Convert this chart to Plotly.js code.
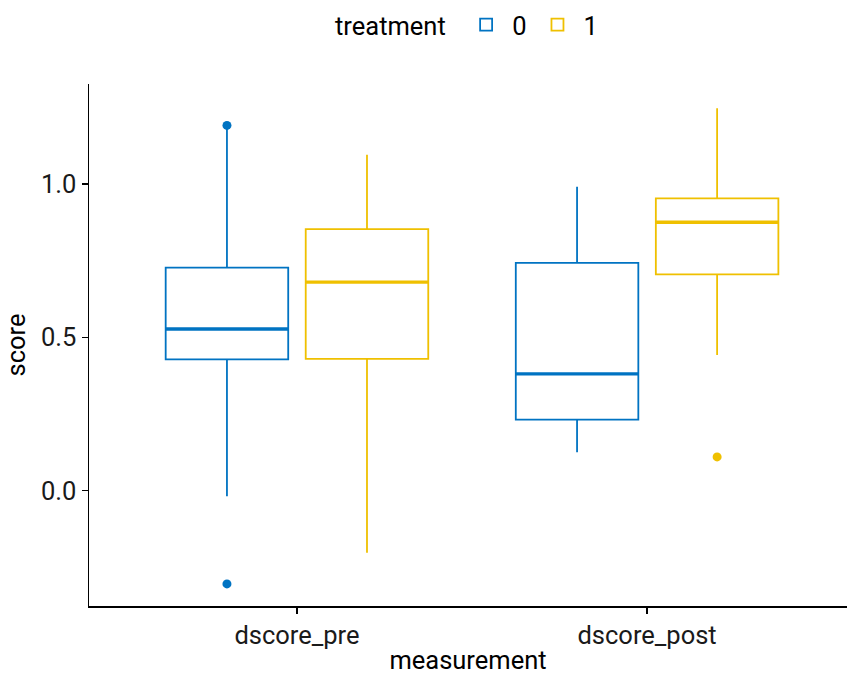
<!DOCTYPE html>
<html>
<head>
<meta charset="utf-8">
<script src="https://cdn.plot.ly/plotly-3.0.1.min.js"></script>
<style>html,body{margin:0;padding:0;background:#fff;}#chart{width:847px;height:676px;}</style>
</head>
<body>
<div id="chart"></div>
<script>
// ---- data ----
const categories = ['dscore_pre', 'dscore_post'];
const treatments = ['0', '1'];
const colors = ['#0073C2', '#EFC000'];

// treatment 0
const lower0 = [-0.018, 0.125];
const q1_0   = [0.428, 0.232];
const med0   = [0.527, 0.381];
const q3_0   = [0.727, 0.743];
const upper0 = [1.183, 0.991];
const outX0  = ['dscore_pre', 'dscore_pre'];
const outY0  = [1.191, -0.304];

// treatment 1
const lower1 = [-0.202, 0.442];
const q1_1   = [0.430, 0.705];
const med1   = [0.680, 0.875];
const q3_1   = [0.853, 0.953];
const upper1 = [1.095, 1.247];
const outX1  = ['dscore_post'];
const outY1  = [0.110];

const stats = [
  {lower: lower0, q1: q1_0, med: med0, q3: q3_0, upper: upper0, ox: outX0, oy: outY0},
  {lower: lower1, q1: q1_1, med: med1, q3: q3_1, upper: upper1, ox: outX1, oy: outY1}
];

const FONT = 'Roboto, "Liberation Sans", sans-serif';
const FS = 25.5;
const traces = [];
stats.forEach((s, i) => {
  traces.push({
    type: 'box', name: treatments[i], x: categories,
    q1: s.q1, median: s.med, q3: s.q3, lowerfence: s.lower, upperfence: s.upper,
    boxpoints: false, whiskerwidth: 0,
    line: {color: colors[i], width: 1.8}, fillcolor: 'rgba(255,255,255,0)',
    offsetgroup: treatments[i], hoverinfo: 'y'
  });
});
stats.forEach((s, i) => {
  // thicker median segment (line-ew marker is 1.4*size wide)
  traces.push({
    type: 'scatter', mode: 'markers', x: categories, y: s.med, showlegend: false,
    offsetgroup: treatments[i], hoverinfo: 'skip',
    marker: {symbol: 'line-ew', size: 87.5, line: {color: colors[i], width: 3.4}}
  });
  // outliers
  traces.push({
    type: 'scatter', mode: 'markers', x: s.ox, y: s.oy, showlegend: false,
    offsetgroup: treatments[i],
    marker: {symbol: 'circle', size: 9, color: colors[i]}
  });
});

const layout = {
  width: 847, height: 676,
  margin: {l: 89, r: 0, t: 84, b: 70},
  paper_bgcolor: '#fff', plot_bgcolor: '#fff',
  font: {family: FONT, size: FS, color: '#000'},
  boxmode: 'group', boxgap: 0.2, boxgroupgap: 0.125,
  scattermode: 'group', scattergap: 0.2,
  xaxis: {
    type: 'category', categoryorder: 'array', categoryarray: categories,
    range: [-0.594, 1.571],
    showline: true, linecolor: '#000', linewidth: 1.5, mirror: false,
    ticks: 'outside', ticklen: 6, tickwidth: 1.3, tickcolor: '#000',
    showgrid: false, zeroline: false,
    tickfont: {family: FONT, size: FS, color: '#1a1a1a'},
    title: {text: 'measurement', font: {family: FONT, size: FS, color: '#000'}, standoff: 2}
  },
  yaxis: {
    range: [-0.376, 1.326],
    tickvals: [0, 0.5, 1.0], ticktext: ['0.0', '0.5', '1.0'],
    showline: true, linecolor: '#000', linewidth: 1.5,
    ticks: 'outside', ticklen: 6, tickwidth: 1.3, tickcolor: '#000',
    showgrid: false, zeroline: false,
    tickfont: {family: FONT, size: FS, color: '#1a1a1a'},
    title: {text: 'score', font: {family: FONT, size: FS, color: '#000'}, standoff: 8}
  },
  legend: {
    orientation: 'h', x: 0.5, xanchor: 'center', y: 1.113, yanchor: 'middle',
    font: {family: FONT, size: FS, color: '#000'},
    title: {text: 'treatment ', side: 'left', font: {family: FONT, size: FS, color: '#000'}},
    bgcolor: 'rgba(0,0,0,0)', itemwidth: 42
  },
  showlegend: true
};

Plotly.newPlot('chart', traces, layout, {staticPlot: true, displayModeBar: false});
</script>
</body>
</html>
